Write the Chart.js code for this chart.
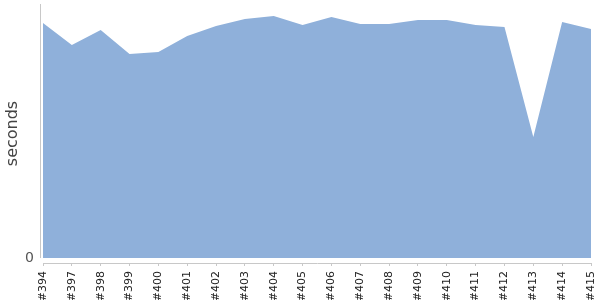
<!DOCTYPE html>
<html>
<head>
<meta charset="utf-8">
<script src="https://cdn.jsdelivr.net/npm/chart.js@4"></script>
<style>
  html, body { margin: 0; padding: 0; background: #fff; }
  #wrap { width: 600px; height: 300px; }
</style>
</head>
<body>
<div id="wrap"><canvas id="graph"></canvas></div>
<script>
// builds on the x axis
const builds = ["#394", "#397", "#398", "#399", "#400", "#401", "#402", "#403", "#404", "#405",
                "#406", "#407", "#408", "#409", "#410", "#411", "#412", "#413", "#414", "#415"];
// duration per build (seconds)
const durations = [235, 213, 228, 204, 206, 222, 232, 239, 242, 233,
                   241, 234, 234, 238, 238, 233, 231, 121, 236, 229];
// the only y tick label shown
const yTicks = [0];

// y axis line drawn a bit left of the plot, stopping at zero
const axisLine = {
    id: 'axisLine',
    afterDraw(chart) {
        const ctx = chart.ctx;
        const a = chart.chartArea;
        const y0 = chart.scales.y.getPixelForValue(0);
        ctx.save();
        ctx.strokeStyle = '#c8c8c8';
        ctx.lineWidth = 1;
        ctx.beginPath();
        ctx.moveTo(a.left - 2.5, a.top);
        ctx.lineTo(a.left - 2.5, y0);
        ctx.stroke();
        ctx.restore();
    }
};

const g = document.getElementById('graph');
new Chart(g, {
    type: 'line',
    data: {
        labels: builds,
        datasets: [{
            label: 'seconds',
            data: durations,
            fill: 'origin',
            backgroundColor: 'rgb(143,176,218)',
            borderWidth: 0,
            pointRadius: 0,
            tension: 0
        }]
    },
    options: {
        responsive: true,
        maintainAspectRatio: false,
        animation: false,
        layout: { padding: 0 },
        plugins: { legend: { display: false }, tooltip: { enabled: false } },
        scales: {
            x: {
                grid: { drawOnChartArea: false, drawTicks: true, tickLength: 3, color: '#c8c8c8' },
                border: { display: true, color: '#c8c8c8' },
                ticks: {
                    autoSkip: false, minRotation: 90, maxRotation: 90, padding: 5,
                    color: '#222', font: { family: 'DejaVu Sans', size: 11 }
                },
                afterFit(scale) {
                    scale.height = 37;
                    scale.paddingRight = 0;
                    scale.paddingLeft = 0;
                }
            },
            y: {
                min: -5,
                max: 254,
                grid: { display: false },
                border: { display: false },
                afterBuildTicks(scale) { scale.ticks = yTicks.map(v => ({ value: v })); },
                ticks: { color: '#555', padding: 1, font: { family: 'DejaVu Sans', size: 14 } },
                title: {
                    display: true, text: 'seconds', color: '#444', padding: { top: 3, bottom: 0 },
                    font: { family: 'DejaVu Sans', size: 16 }
                },
                afterFit(scale) {
                    scale.width = 43;
                    scale.paddingTop = 0;
                    scale.paddingBottom = 0;
                }
            }
        }
    },
    plugins: [axisLine, {
        id: 'edges',
        beforeLayout(chart) {
            chart.options.layout.padding = { top: 4, right: 9, left: 0, bottom: 0 };
        }
    }]
});
</script>
</body>
</html>
